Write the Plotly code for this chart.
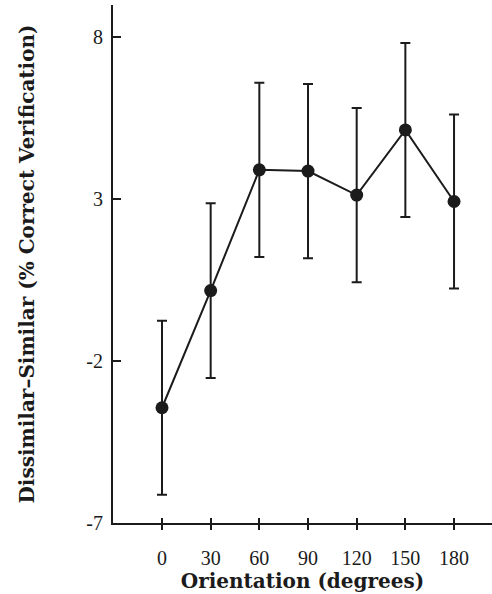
import plotly.graph_objects as go

# Orientation conditions (degrees) and mean Dissimilar-Similar difference
orientation = [0, 30, 60, 90, 120, 150, 180]
difference = [-3.44, 0.18, 3.91, 3.87, 3.13, 5.14, 2.93]
error = [2.69, 2.70, 2.69, 2.69, 2.69, 2.69, 2.69]

x_ticks = [0, 30, 60, 90, 120, 150, 180]
y_ticks = [-7, -2, 3, 8]

ink = "#1b1b1b"
serif = "Liberation Serif, Times New Roman, serif"
title_font = "DejaVu Serif, serif"

fig = go.Figure()
fig.add_trace(go.Scatter(
    x=orientation, y=difference,
    mode="lines+markers",
    line=dict(color=ink, width=2),
    marker=dict(color=ink, size=13),
    error_y=dict(type="data", array=error, visible=True,
                 color=ink, thickness=2, width=5),
    showlegend=False, cliponaxis=False,
))
# invisible trace carrying the overlay axis that draws the inner half of x ticks
fig.add_trace(go.Scatter(x=[0], y=[0], xaxis="x2", mode="markers",
                         marker=dict(opacity=0), showlegend=False,
                         hoverinfo="skip"))

fig.update_layout(
    width=492, height=594,
    margin=dict(l=113, r=0, t=5, b=71),
    plot_bgcolor="white", paper_bgcolor="white",
    font=dict(family=serif, color=ink, size=20),
    xaxis=dict(
        range=[-30.2, 203.4], tickvals=x_ticks, ticktext=[str(v) for v in x_ticks],
        showgrid=False, zeroline=False,
        showline=True, linecolor=ink, linewidth=2,
        ticks="outside", ticklen=5, tickwidth=1.5, tickcolor=ink,
        ticklabelstandoff=11,
        title=dict(text="\u00a0\u00a0\u00a0<b>Orientation (degrees)</b>", standoff=2,
                   font=dict(size=20, family=title_font)),
    ),
    xaxis2=dict(
        overlaying="x", anchor="y", range=[-30.2, 203.4], tickvals=x_ticks,
        showticklabels=False, showgrid=False, zeroline=False, showline=False,
        ticks="inside", ticklen=5, tickwidth=1.5, tickcolor=ink,
    ),
    yaxis=dict(
        range=[-7, 9], tickvals=y_ticks, ticktext=[str(v) for v in y_ticks],
        showgrid=False, zeroline=False,
        showline=True, linecolor=ink, linewidth=2,
        ticks="inside", ticklen=8, tickwidth=1.5, tickcolor=ink,
        ticklabelstandoff=4,
        title=dict(text="<b>Dissimilar\u2013Similar (% Correct Verification)</b>",
                   standoff=46, font=dict(size=20, family=title_font)),
    ),
)

fig.write_html("out.html")
